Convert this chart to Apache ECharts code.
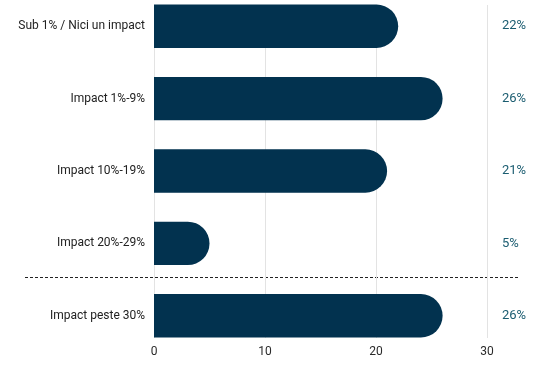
<!DOCTYPE html>
<html><head><meta charset="utf-8">
<script src="https://cdn.jsdelivr.net/npm/echarts@6/dist/echarts.min.js"></script>
<style>html,body{margin:0;padding:0;background:#fff}#c{width:550px;height:365px}</style>
</head><body><div id="c"></div>
<script>
const categories = ['Sub 1% / Nici un impact', 'Impact 1%-9%', 'Impact 10%-19%', 'Impact 20%-29%', 'Impact peste 30%'];
const values = [22, 26, 21, 5, 26];
const valueLabels = ['22%', '26%', '21%', '5%', '26%'];
const xTicks = [0, 10, 20, 30];

const chart = echarts.init(document.getElementById('c'), null, {renderer: 'canvas'});
const font = 'Roboto, "Noto Sans", sans-serif';
chart.setOption({
  animation: false,
  grid: [
    {left: 154, right: 63, top: -10, bottom: 13, outerBoundsMode: 'none', containLabel: false},
    {left: 154, right: 63, top: 5, bottom: 27, outerBoundsMode: 'none', containLabel: false}
  ],
  xAxis: [
    {gridIndex: 0, type: 'value', min: 0, max: 30, interval: 10,
     axisLine: {show: false}, axisTick: {show: false}, axisLabel: {show: false}, splitLine: {show: false}},
    {gridIndex: 1, type: 'value', min: xTicks[0], max: xTicks[xTicks.length-1], interval: 10,
     axisLine: {show: false}, axisTick: {show: false},
     axisLabel: {color: '#2a2a2a', fontSize: 12, fontFamily: font, margin: 8},
     splitLine: {show: true, lineStyle: {color: '#e3e3e3', width: 1}}}
  ],
  yAxis: [
    {gridIndex: 0, type: 'category', data: categories, inverse: true,
     axisLine: {show: false}, axisTick: {show: false},
     axisLabel: {color: '#222', fontSize: 12, fontFamily: font, margin: 9}},
    {gridIndex: 0, type: 'category', data: valueLabels, inverse: true, position: 'right',
     axisLine: {show: false}, axisTick: {show: false},
     axisLabel: {color: '#1a5c70', fontSize: 13, fontFamily: font, margin: 15}},
    {gridIndex: 1, type: 'value', show: false}
  ],
  series: [{
    type: 'bar', xAxisIndex: 0, yAxisIndex: 0, data: values,
    barCategoryGap: '40%',
    itemStyle: {color: '#02324f', borderRadius: [0, 22, 22, 0]}
  }],
  graphic: [{
    type: 'line', shape: {x1: 25, y1: 277.5, x2: 520, y2: 277.5},
    style: {stroke: '#222', lineWidth: 1, lineDash: [3, 2]}
  }]
});
</script></body></html>
